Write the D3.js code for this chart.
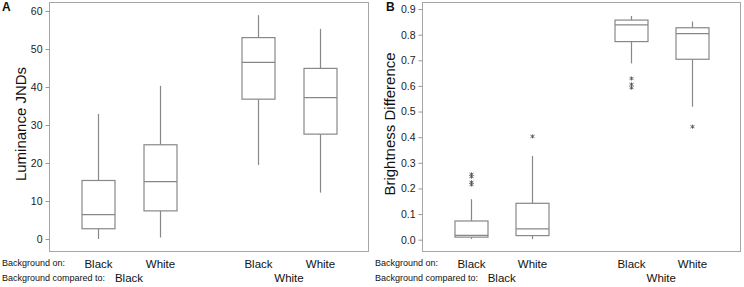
<!DOCTYPE html>
<html><head><meta charset="utf-8">
<script src="https://cdn.jsdelivr.net/npm/d3@7"></script>
<style>body{margin:0;background:#fff}svg{display:block;font-family:"Liberation Sans",Arial,sans-serif}</style>
</head><body><svg id="c" width="744" height="287"></svg>
<script>
// categories
const backgroundOn = ["Black","White","Black","White"];
const comparedTo = ["Black","White"];
// Panel A: Luminance JNDs  [whiskerLow, Q1, median, Q3, whiskerHigh]
const lumStats = [
  [0, 2.7, 6.4, 15.4, 32.9],
  [0.4, 7.4, 15.1, 24.8, 40.3],
  [19.5, 36.8, 46.5, 53.0, 58.9],
  [12.2, 27.6, 37.2, 44.9, 55.3]
];
const lumOutliers = [[],[],[],[]];
const lumTicks = [0,10,20,30,40,50,60];
// Panel B: Brightness Difference
const briStats = [
  [0.003, 0.010, 0.017, 0.073, 0.158],
  [0.002, 0.016, 0.042, 0.142, 0.327],
  [0.688, 0.773, 0.838, 0.857, 0.873],
  [0.519, 0.704, 0.804, 0.827, 0.851]
];
const briOutliers = [[0.255,0.246,0.224,0.215],[0.403],[0.629,0.606,0.593],[0.441]];
const briTicks = [0,0.1,0.2,0.3,0.4,0.5,0.6,0.7,0.8,0.9];

const svg = d3.select("#c");
const slot = i => i + Math.floor(i/2)*0.6 + 1;

function panel(o){
  const g = svg.append("g");
  const x = d3.scaleLinear().domain([0.2,5.4]).range([o.left,o.right]);
  const y = d3.scaleLinear().domain(o.ydom).range([252,2]);
  // frame
  g.append("rect").attr("x",o.left+0.5).attr("y",2.5).attr("width",o.right-o.left-1).attr("height",249)
    .attr("fill","none").attr("stroke","#a6a6a6").attr("stroke-width",1);
  // y axis
  const ax = g.append("g").attr("transform",`translate(${o.left+0.5},0)`)
    .call(d3.axisLeft(y).tickValues(o.ticks).tickFormat(o.fmt).tickSize(4).tickPadding(3));
  ax.select(".domain").remove();
  ax.selectAll(".tick line").attr("stroke","#999");
  ax.selectAll(".tick text").attr("fill","#222").style("font-size","10.5px").style("font-family","'Liberation Sans',Arial,sans-serif");
  // title
  g.append("text").attr("transform",`translate(${o.titleX},${o.titleY}) rotate(-90)`)
    .attr("text-anchor","middle").style("font-size","15px").attr("fill","#111").text(o.title);
  g.append("text").attr("x",o.letterX).attr("y",11).style("font-size","12px").style("font-weight","bold").attr("fill","#111").text(o.letter);
  // boxes
  const hw = 16.5;
  o.stats.forEach((s,i)=>{
    const cx = Math.round(x(slot(i)))+0.5;
    const bg = g.append("g").attr("stroke","#888").attr("fill","none").attr("stroke-width",1.2);
    bg.append("line").attr("x1",cx).attr("x2",cx).attr("y1",y(s[0])).attr("y2",y(s[1]));
    bg.append("line").attr("x1",cx).attr("x2",cx).attr("y1",y(s[3])).attr("y2",y(s[4]));
    bg.append("rect").attr("x",cx-hw).attr("width",2*hw).attr("y",y(s[3])).attr("height",y(s[1])-y(s[3])).attr("fill","#fff");
    bg.append("line").attr("x1",cx-hw).attr("x2",cx+hw).attr("y1",y(s[2])).attr("y2",y(s[2]));
    o.outliers[i].forEach(v=>{
      const yy = y(v), r = 2;
      const a = g.append("g").attr("stroke","#555").attr("stroke-width",0.9);
      a.append("line").attr("x1",cx).attr("x2",cx).attr("y1",yy-r).attr("y2",yy+r);
      a.append("line").attr("x1",cx-r).attr("x2",cx+r).attr("y1",yy-r*0.6).attr("y2",yy+r*0.6);
      a.append("line").attr("x1",cx-r).attr("x2",cx+r).attr("y1",yy+r*0.6).attr("y2",yy-r*0.6);
    });
    g.append("text").attr("x",cx).attr("y",267.5).attr("text-anchor","middle").style("font-size","11.5px").attr("fill","#111").text(backgroundOn[i]);
  });
  comparedTo.forEach((c,j)=>{
    const cx = (x(slot(2*j))+x(slot(2*j+1)))/2;
    g.append("text").attr("x",cx).attr("y",282).attr("text-anchor","middle").style("font-size","11.5px").attr("fill","#111").text(c);
  });
  g.append("text").attr("x",o.labelX).attr("y",266).style("font-size","9px").attr("fill","#111").text("Background on:");
  g.append("text").attr("x",o.labelX).attr("y",280.5).style("font-size","9px").attr("fill","#111").text("Background compared to:");
}

panel({left:49,right:369,ydom:[-3.42,62.37],ticks:lumTicks,fmt:d3.format("d"),
  title:"Luminance JNDs",titleX:26,titleY:124,letter:"A",letterX:2,labelX:2,
  stats:lumStats,outliers:lumOutliers});
panel({left:422,right:741,ydom:[-0.048,0.9275],ticks:briTicks,fmt:d3.format(".1f"),
  title:"Brightness Difference",titleX:395,titleY:124,letter:"B",letterX:386,labelX:375,
  stats:briStats,outliers:briOutliers});
</script></body></html>
